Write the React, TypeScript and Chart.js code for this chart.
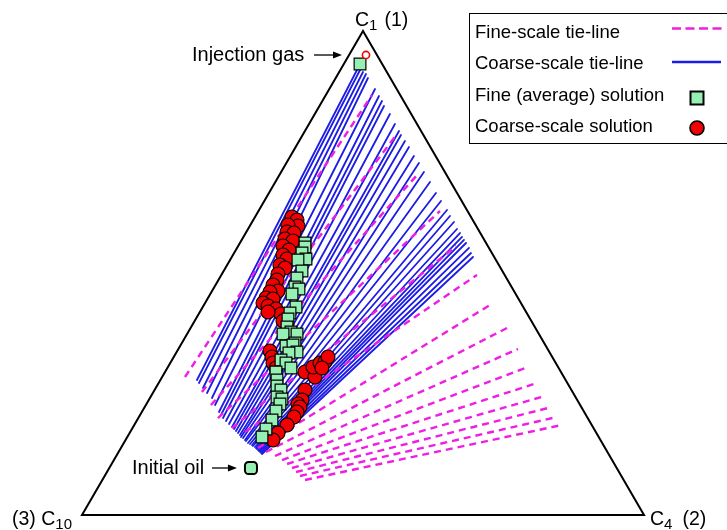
import React, { useEffect, useRef } from "react";
import { Chart, registerables } from "chart.js";

Chart.register(...registerables);

// Compositions in mole percent, stored as [C1, C4]; C10 = 100 - C1 - C4.

// Fine-scale tie-lines: liquid end and vapour end of each line
const fineTieLiquid: number[][] = [
  [28.51, 4.07], [25.41, 8.64], [22.73, 11.58], [20.04, 14.18], [17.98, 17.7],
  [17.15, 20.42], [13.84, 24.4], [13.02, 26.23], [12.19, 28.24], [11.36, 29.91],
  [10.54, 31.21], [9.71, 32.51], [8.88, 33.64], [8.06, 34.76], [7.23, 36.06],
];
const fineTieVapor: number[][] = [
  [86.78, 8.21], [78.72, 16.69], [70.45, 24.56], [62.81, 32.29], [55.58, 38.76],
  [49.59, 45.49], [43.39, 50.9], [38.64, 56.3], [34.3, 60.43], [30.58, 64.07],
  [27.27, 67.32], [24.59, 70.08], [22.31, 72.47], [20.25, 74.39], [18.6, 76.11],
];

// Coarse-scale tie-lines
const coarseTieLiquid: number[][] = [
  [27.89, 6.51], [27.27, 7.18], [26.24, 8.41], [25.21, 9.64], [24.17, 11.04],
  [22.73, 12.31], [21.28, 13.74], [20.66, 14.4], [20.04, 15.07], [19.42, 15.91],
  [18.8, 16.76], [18.18, 17.6], [17.77, 18.17], [17.36, 18.72], [16.94, 19.29],
  [16.53, 19.85], [16.12, 20.23], [15.91, 20.7], [15.5, 21.25], [15.29, 21.54],
  [14.88, 22.1], [14.67, 22.56], [14.46, 23.02], [14.26, 23.3], [14.05, 23.76],
  [13.84, 24.04], [13.64, 24.32], [13.43, 24.61], [13.22, 24.88], [13.02, 25.16],
  [12.81, 25.45], [12.6, 25.73],
];
const coarseTieVapor: number[][] = [
  [92.36, 2.93], [91.94, 3.5], [91.53, 4.23], [91.12, 4.97], [90.29, 5.74],
  [88.02, 8.13], [86.57, 9.56], [85.54, 10.61], [84.5, 11.49], [82.85, 13.37],
  [80.79, 15.29], [79.34, 16.74], [78.51, 17.5], [77.27, 18.83], [76.03, 20.17],
  [74.17, 21.98], [72.73, 23.59], [70.87, 25.41], [68.8, 27.52], [66.53, 29.72],
  [64.88, 31.44], [63.02, 33.44], [61.78, 34.59], [60.54, 35.92], [59.09, 37.18],
  [58.26, 38.13], [57.44, 38.9], [56.82, 39.56], [56.2, 40.23], [55.17, 41.28],
  [54.13, 42.15], [53.31, 42.92],
];

// Fine (average) solution compositions
const fineSolution: number[][] = [
  [56.2, 11.58], [55.37, 11.99], [54.13, 12.08], [52.89, 13.41], [52.69, 12.08],
  [50.41, 13.94], [48.97, 13.77], [47.11, 14.34], [46.69, 15.26], [45.66, 14.54],
  [42.98, 16.59], [41.74, 16.14], [40.5, 16.4], [38.84, 17.06], [37.81, 18.28],
  [37.4, 17.07], [37.4, 19.56], [35.54, 20.13], [34.92, 18.84], [35.12, 19.98],
  [33.68, 21.42], [33.47, 20.09], [32.02, 19.4], [31.4, 20.6], [30.37, 22.0],
  [29.55, 19.74], [27.89, 20.75], [26.65, 21.37], [25.83, 22.49], [24.38, 22.51],
  [23.97, 23.6], [22.93, 23.76], [21.49, 23.77], [19.63, 23.99], [17.77, 23.85],
  [16.12, 23.97],
];

// Coarse-scale solution compositions
const coarseSolution: number[][] = [
  [61.57, 6.58], [60.95, 7.78], [59.71, 8.57], [59.92, 6.69], [58.47, 7.24],
  [58.26, 8.59], [57.02, 7.61], [56.61, 9.23], [55.58, 7.98], [54.75, 9.45],
  [53.72, 8.91], [52.89, 10.03], [51.65, 9.4], [51.03, 10.6], [49.79, 9.98],
  [48.55, 10.42], [47.52, 10.23], [46.28, 11.74], [46.07, 10.41], [44.83, 10.32],
  [44.63, 11.67], [43.8, 10.31], [43.18, 11.51], [42.56, 13.24], [41.53, 14.64],
  [41.94, 12.13], [40.08, 15.73], [33.88, 16.51], [32.64, 17.49], [31.4, 18.29],
  [30.37, 19.33], [29.55, 24.9], [28.51, 27.2], [30.58, 25.81], [31.4, 26.65],
  [31.61, 27.43], [32.64, 27.45], [30.37, 27.51], [25.83, 26.76], [23.76, 27.27],
  [22.93, 26.96], [22.31, 27.63], [21.28, 27.62], [20.25, 27.59], [18.6, 27.18],
  [16.94, 26.41], [15.5, 26.24],
];

const injectionGasFine: number[] = [93.18, 2.88];
const injectionGasCoarse: number[] = [95.04, 3.01];
const initialOil: number[] = [9.71, 25.21];

const legendLabels: string[] = [
  "Fine-scale tie-line",
  "Coarse-scale tie-line",
  "Fine (average) solution",
  "Coarse-scale solution",
];

const FONT = '"Liberation Sans", Arial, Helvetica, sans-serif';
const MAGENTA = "rgb(238, 30, 228)";
const BLUE = "rgb(28, 28, 228)";
const MINT = "rgb(150, 240, 180)";
const RED = "rgb(240, 0, 0)";

// Ternary projection: C10 at the origin, C4 to the right, C1 at the apex
const toXY = (c: number[]) => ({ x: c[1] + c[0] / 2, y: c[0] });

function subLabel(
  ctx: CanvasRenderingContext2D,
  x: number,
  base: number,
  main: string,
  sub: string,
  rest: string,
  gap: number
) {
  ctx.font = `19.5px ${FONT}`;
  ctx.fillText(main, x, base);
  let cx = x + ctx.measureText(main).width;
  ctx.font = `15px ${FONT}`;
  ctx.fillText(sub, cx, base + 4);
  cx += ctx.measureText(sub).width + gap;
  ctx.font = `19.5px ${FONT}`;
  if (rest) ctx.fillText(rest, cx, base);
}

function arrow(ctx: CanvasRenderingContext2D, x0: number, x1: number, y: number) {
  ctx.beginPath();
  ctx.moveTo(x0, y);
  ctx.lineTo(x1 - 7, y);
  ctx.lineWidth = 1.3;
  ctx.strokeStyle = "#000";
  ctx.stroke();
  ctx.beginPath();
  ctx.moveTo(x1, y);
  ctx.lineTo(x1 - 9, y - 3.5);
  ctx.lineTo(x1 - 9, y + 3.5);
  ctx.closePath();
  ctx.fillStyle = "#000";
  ctx.fill();
}

const ternaryPlugin = {
  id: "ternaryFrame",
  beforeDatasetsDraw(chart: any) {
    const { ctx, scales } = chart;
    const px = (c1: number, c4: number) => [
      scales.x.getPixelForValue(c4 + c1 / 2),
      scales.y.getPixelForValue(c1),
    ];
    const [lx, ly] = px(0, 0);
    const [rx, ry] = px(0, 100);
    const [tx, ty] = px(100, 0);
    ctx.save();
    ctx.beginPath();
    ctx.moveTo(lx, ly);
    ctx.lineTo(rx, ry);
    ctx.lineTo(tx, ty);
    ctx.closePath();
    ctx.lineWidth = 2;
    ctx.strokeStyle = "#000";
    ctx.stroke();
    ctx.restore();
  },
  afterDraw(chart: any) {
    const { ctx, scales } = chart;
    const px = (c1: number, c4: number) => [
      scales.x.getPixelForValue(c4 + c1 / 2),
      scales.y.getPixelForValue(c1),
    ];
    const [lx, ly] = px(0, 0);
    const [rx, ry] = px(0, 100);
    const [tx, ty] = px(100, 0);
    ctx.save();
    ctx.fillStyle = "#000";
    ctx.textBaseline = "alphabetic";
    ctx.textAlign = "left";

    // vertex labels
    subLabel(ctx, tx - 8, ty - 5, "C", "1", "(1)", 7);
    subLabel(ctx, lx - 70, ly + 10, "(3) C", "10", "", 0);
    subLabel(ctx, rx + 6, ry + 10, "C", "4", "(2)", 10);

    // annotations
    const [gx, gy] = px(injectionGasFine[0], injectionGasFine[1]);
    ctx.font = `20px ${FONT}`;
    ctx.fillStyle = "#000";
    ctx.fillText("Injection gas", 192, gy - 3);
    arrow(ctx, 314, gx - 18, gy - 9);
    const [ox, oy] = px(initialOil[0], initialOil[1]);
    ctx.font = `20px ${FONT}`;
    ctx.fillStyle = "#000";
    ctx.fillText("Initial oil", 132, oy + 6);
    arrow(ctx, 212, ox - 14, oy);

    // legend
    const bx = 469.5, by = 13.5, bw = 270, bh = 130;
    ctx.fillStyle = "#fff";
    ctx.fillRect(bx, by, bw, bh);
    ctx.lineWidth = 1;
    ctx.strokeStyle = "#000";
    ctx.strokeRect(bx, by, bw, bh);
    ctx.font = `18.5px ${FONT}`;
    ctx.fillStyle = "#000";
    const rows = [37.5, 68.5, 100.5, 132];
    legendLabels.forEach((t, i) => ctx.fillText(t, 475, rows[i]));

    ctx.lineWidth = 2.6;
    ctx.strokeStyle = MAGENTA;
    ctx.setLineDash([9, 4.5]);
    ctx.beginPath();
    ctx.moveTo(672, 28.5);
    ctx.lineTo(723, 28.5);
    ctx.stroke();
    ctx.setLineDash([]);
    ctx.strokeStyle = BLUE;
    ctx.beginPath();
    ctx.moveTo(672, 62);
    ctx.lineTo(721, 62);
    ctx.stroke();

    ctx.fillStyle = MINT;
    ctx.fillRect(690.5, 91.5, 13, 13);
    ctx.lineWidth = 2;
    ctx.strokeStyle = "#000";
    ctx.strokeRect(690.5, 91.5, 13, 13);

    ctx.beginPath();
    ctx.arc(697, 128, 7, 0, Math.PI * 2);
    ctx.fillStyle = RED;
    ctx.fill();
    ctx.lineWidth = 1.6;
    ctx.stroke();
    ctx.restore();
  },
};

export default function App() {
  const ref = useRef<HTMLCanvasElement>(null);

  useEffect(() => {
    if (!ref.current) return;

    const tieSet = (liq: number[], vap: number[], fine: boolean) => ({
      data: [toXY(liq), toXY(vap)],
      showLine: true,
      borderColor: fine ? MAGENTA : BLUE,
      borderWidth: fine ? 2.4 : 1.8,
      borderDash: fine ? [7, 5] : [],
      borderCapStyle: fine ? "butt" : "round",
      pointRadius: 0,
      fill: false,
      order: fine ? 3 : 4,
    });

    const datasets: any[] = [
      ...coarseTieLiquid.map((l, i) => tieSet(l, coarseTieVapor[i], false)),
      ...fineTieLiquid.map((l, i) => tieSet(l, fineTieVapor[i], true)),
      {
        data: coarseSolution.map(toXY),
        pointStyle: "circle",
        pointRadius: 7,
        backgroundColor: RED,
        borderColor: "#000",
        borderWidth: 1.1,
        order: 2,
      },
      {
        data: [...fineSolution, injectionGasFine].map(toXY),
        pointStyle: "rect",
        pointRadius: 8.3,
        backgroundColor: MINT,
        borderColor: "#000",
        borderWidth: 1.2,
        order: 1,
      },
      {
        data: [toXY(initialOil)],
        pointStyle: "rectRounded",
        pointRadius: 7,
        backgroundColor: MINT,
        borderColor: "#000",
        borderWidth: 2,
        order: 1,
      },
      {
        data: [toXY(injectionGasCoarse)],
        pointStyle: "circle",
        pointRadius: 3.6,
        backgroundColor: "#fff",
        borderColor: RED,
        borderWidth: 1.6,
        order: 0,
      },
    ];

    const chart = new Chart(ref.current, {
      type: "scatter",
      data: { datasets },
      options: {
        animation: false,
        responsive: false,
        devicePixelRatio: 1,
        events: [],
        layout: { padding: { left: 82, right: 83, top: 31, bottom: 15 } },
        scales: {
          x: { type: "linear", min: 0, max: 100, display: false },
          y: { type: "linear", min: 0, max: 100, display: false },
        },
        plugins: {
          legend: { display: false },
          tooltip: { enabled: false },
        },
        elements: { line: { tension: 0 } },
      },
      plugins: [ternaryPlugin],
    } as any);

    return () => chart.destroy();
  }, []);

  return (
    <div
      style={{
        position: "absolute",
        left: 0,
        top: 0,
        width: 727,
        height: 530,
        background: "#fff",
      }}
    >
      <canvas ref={ref} width={727} height={530} style={{ display: "block" }} />
    </div>
  );
}
